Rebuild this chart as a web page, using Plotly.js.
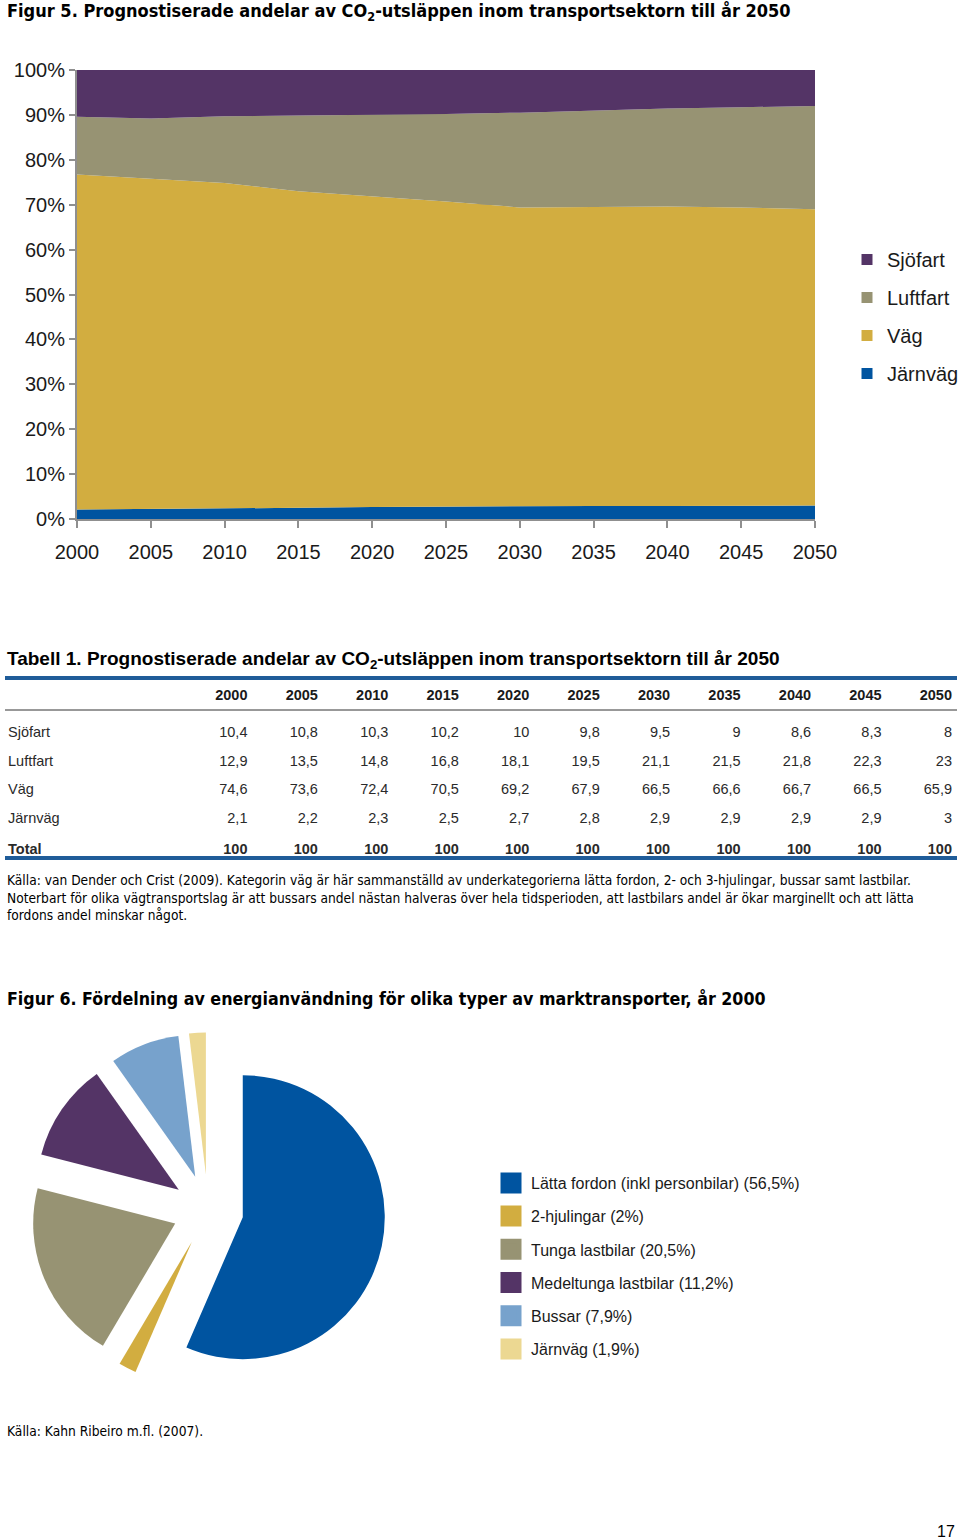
<!DOCTYPE html>
<html><head><meta charset="utf-8">
<script src="https://cdn.plot.ly/plotly-3.0.1.min.js"></script>
<style>html,body{margin:0;padding:0;background:#fff;} #chart{width:960px;height:1540px;}</style>
</head><body><div id="chart"></div>
<script>
// ---------- DATA ----------
const years    = [2000, 2005, 2010, 2015, 2020, 2025, 2030, 2035, 2040, 2045, 2050];
const sjofart  = [10.4, 10.8, 10.3, 10.2, 10, 9.8, 9.5, 9, 8.6, 8.3, 8];
const luftfart = [12.9, 13.5, 14.8, 16.8, 18.1, 19.5, 21.1, 21.5, 21.8, 22.3, 23];
const vag      = [74.6, 73.6, 72.4, 70.5, 69.2, 67.9, 66.5, 66.6, 66.7, 66.5, 65.9];
const jarnvag  = [2.1, 2.2, 2.3, 2.5, 2.7, 2.8, 2.9, 2.9, 2.9, 2.9, 3];
const totals   = [100, 100, 100, 100, 100, 100, 100, 100, 100, 100, 100];
const seriesNames = ['Sjöfart', 'Luftfart', 'Väg', 'Järnväg'];
const yTickVals = [0, 10, 20, 30, 40, 50, 60, 70, 80, 90, 100];
const yTickText = ['0%', '10%', '20%', '30%', '40%', '50%', '60%', '70%', '80%', '90%', '100%'];

const pieLabels = ['Lätta fordon (inkl personbilar)', '2-hjulingar', 'Tunga lastbilar',
                   'Medeltunga lastbilar', 'Bussar', 'Järnväg'];
const pieValues = [56.5, 2, 20.5, 11.2, 7.9, 1.9];

// ---------- STYLE ----------
const W = 960, H = 1540;
const X = p => p / W;
const Y = p => 1 - p / H;
const SANS = '"Liberation Sans", Arial, Helvetica, sans-serif';
const NARROW = '"Liberation Sans Narrow", "Arial Narrow", "DejaVu Sans Condensed", sans-serif';
const TXT = '#1a1a1a';
const areaColors = {'Sjöfart': '#543466', 'Luftfart': '#979373', 'Väg': '#D2AD40', 'Järnväg': '#0054A0'};
const pieColors = ['#0054A0', '#D2AD40', '#979373', '#543466', '#77A2CC', '#ECD892'];
const fmt = v => String(v).replace('.', ',');

const seriesData = {'Sjöfart': sjofart, 'Luftfart': luftfart, 'Väg': vag, 'Järnväg': jarnvag};

const traces = [];
// stacked areas (bottom to top)
['Järnväg', 'Väg', 'Luftfart', 'Sjöfart'].forEach(n => {
  traces.push({
    type: 'scatter', mode: 'lines', x: years, y: seriesData[n], name: n,
    stackgroup: 'one', groupnorm: 'percent',
    line: {width: 0, color: areaColors[n]}, fillcolor: areaColors[n],
    showlegend: false, hoverinfo: 'skip'
  });
});
// legend entries for area chart
seriesNames.forEach(n => {
  traces.push({
    type: 'scatter', mode: 'markers', x: [null], y: [null], name: n,
    legend: 'legend', legendgroup: 'a' + n,
    marker: {symbol: 'square', size: 11, color: areaColors[n]}, hoverinfo: 'skip'
  });
});

// table
const headerVals = [' '].concat(years.map(y => '<b>' + y + '</b>'));
const cellCols = [['Sjöfart', 'Luftfart', 'Väg', 'Järnväg', '<b>Total</b>']];
years.forEach((y, i) => {
  cellCols.push([fmt(sjofart[i]), fmt(luftfart[i]), fmt(vag[i]), fmt(jarnvag[i]), '<b>' + totals[i] + '</b>']);
});
const colW = [185].concat(years.map(() => 70.45));
traces.push({
  type: 'table',
  domain: {x: [0, 1], y: [Y(872), Y(679)]},
  columnwidth: colW,
  header: {
    values: headerVals, height: 38.8,
    align: ['left'].concat(years.map(() => 'right')),
    fill: {color: 'rgba(0,0,0,0)'}, line: {width: 0, color: 'rgba(0,0,0,0)'},
    font: {family: SANS, size: 14.5, color: TXT}
  },
  cells: {
    values: cellCols, height: 28.9,
    align: ['left'].concat(years.map(() => 'right')),
    fill: {color: 'rgba(0,0,0,0)'}, line: {width: 0, color: 'rgba(0,0,0,0)'},
    font: {family: SANS, size: 14.5, color: '#2a2a2a'}
  }
});

// pie
traces.push({
  type: 'pie', labels: pieLabels, values: pieValues, sort: false,
  direction: 'clockwise', rotation: 0, pull: 0.25,
  marker: {colors: pieColors, line: {width: 0}},
  textinfo: 'none', hoverinfo: 'skip', showlegend: false,
  domain: {x: [X(30.5), X(385.5)], y: [Y(1387.5), Y(1032.5)]}
});
// legend entries for pie
pieLabels.forEach((l, i) => {
  traces.push({
    type: 'scatter', mode: 'markers', x: [null], y: [null],
    name: l + ' (' + fmt(pieValues[i]) + '%)',
    legend: 'legend2', legendgroup: 'p' + i,
    marker: {symbol: 'square', size: 16, color: pieColors[i], line: {width: 5, color: pieColors[i]}},
    hoverinfo: 'skip'
  });
});

const rule = (y, w, c) => ({type: 'line', xref: 'paper', yref: 'paper',
  x0: X(5), x1: X(957), y0: Y(y), y1: Y(y), line: {width: w, color: c}});

const ann = (text, x, y, size, fam, opts) => Object.assign({
  text: text, x: X(x), y: Y(y), xref: 'paper', yref: 'paper', showarrow: false,
  xanchor: 'left', yanchor: 'middle', align: 'left',
  font: {family: fam, size: size, color: '#000'}
}, opts || {});

const layout = {
  width: W, height: H,
  margin: {l: 0, r: 0, t: 0, b: 0, pad: 0, autoexpand: false},
  paper_bgcolor: '#fff', plot_bgcolor: '#fff',
  hovermode: false,
  font: {family: SANS, color: TXT},
  xaxis: {
    domain: [X(77), X(815)], range: [2000, 2050], tickvals: years,
    showline: true, linecolor: '#8f8f8f', linewidth: 2,
    ticks: 'outside', ticklen: 7, tickwidth: 2, tickcolor: '#8f8f8f',
    ticklabelstandoff: 7, automargin: false,
    showgrid: false, zeroline: false,
    tickfont: {family: SANS, size: 20, color: TXT}, fixedrange: true
  },
  yaxis: {
    domain: [Y(519), Y(70)], range: [0, 100], tickvals: yTickVals, ticktext: yTickText,
    showline: true, linecolor: '#8f8f8f', linewidth: 2, automargin: false,
    ticks: 'outside', ticklen: 6, tickwidth: 2, tickcolor: '#8f8f8f',
    showgrid: true, gridcolor: '#9a9a9a', gridwidth: 1, zeroline: false,
    tickfont: {family: SANS, size: 20, color: TXT}, fixedrange: true
  },
  showlegend: true,
  legend: {
    x: X(847), y: Y(240), xanchor: 'left', yanchor: 'top',
    traceorder: 'grouped', tracegroupgap: 9, itemwidth: 30,
    font: {family: SANS, size: 20, color: TXT}, bgcolor: 'rgba(0,0,0,0)'
  },
  legend2: {
    x: X(491), y: Y(1166), xanchor: 'left', yanchor: 'top',
    traceorder: 'grouped', tracegroupgap: 9.4, itemwidth: 30,
    font: {family: SANS, size: 16, color: TXT}, bgcolor: 'rgba(0,0,0,0)'
  },
  shapes: [rule(678, 4, '#1F5C99'), rule(710, 1, '#333'), rule(858, 4, '#1F5C99')],
  annotations: [
    ann('<b>Figur 5. Prognostiserade andelar av CO<sub>2</sub>-utsläppen inom transportsektorn till år 2050</b>', 5, 11.5, 18, NARROW),
    ann('<b>Tabell 1. Prognostiserade andelar av CO<sub>2</sub>-utsläppen inom transportsektorn till år 2050</b>', 5, 660, 19, SANS),
    ann('Källa: van Dender och Crist (2009). Kategorin väg är här sammanställd av underkategorierna lätta fordon, 2- och 3-hjulingar, bussar samt lastbilar.<br>Noterbart för olika vägtransportslag är att bussars andel nästan halveras över hela tidsperioden, att lastbilars andel är ökar marginellt och att lätta<br>fordons andel minskar något.', 5, 870, 13.65, NARROW, {yanchor: 'top'}),
    ann('<b>Figur 6. Fördelning av energianvändning för olika typer av marktransporter, år 2000</b>', 5, 998, 17.7, NARROW),
    ann('Källa: Kahn Ribeiro m.fl. (2007).', 5, 1431, 13.7, NARROW),
    ann('17', 957, 1531, 16, SANS, {xanchor: 'right'})
  ]
};

Plotly.newPlot('chart', traces, layout, {displayModeBar: false, staticPlot: true});
</script>
</body></html>
